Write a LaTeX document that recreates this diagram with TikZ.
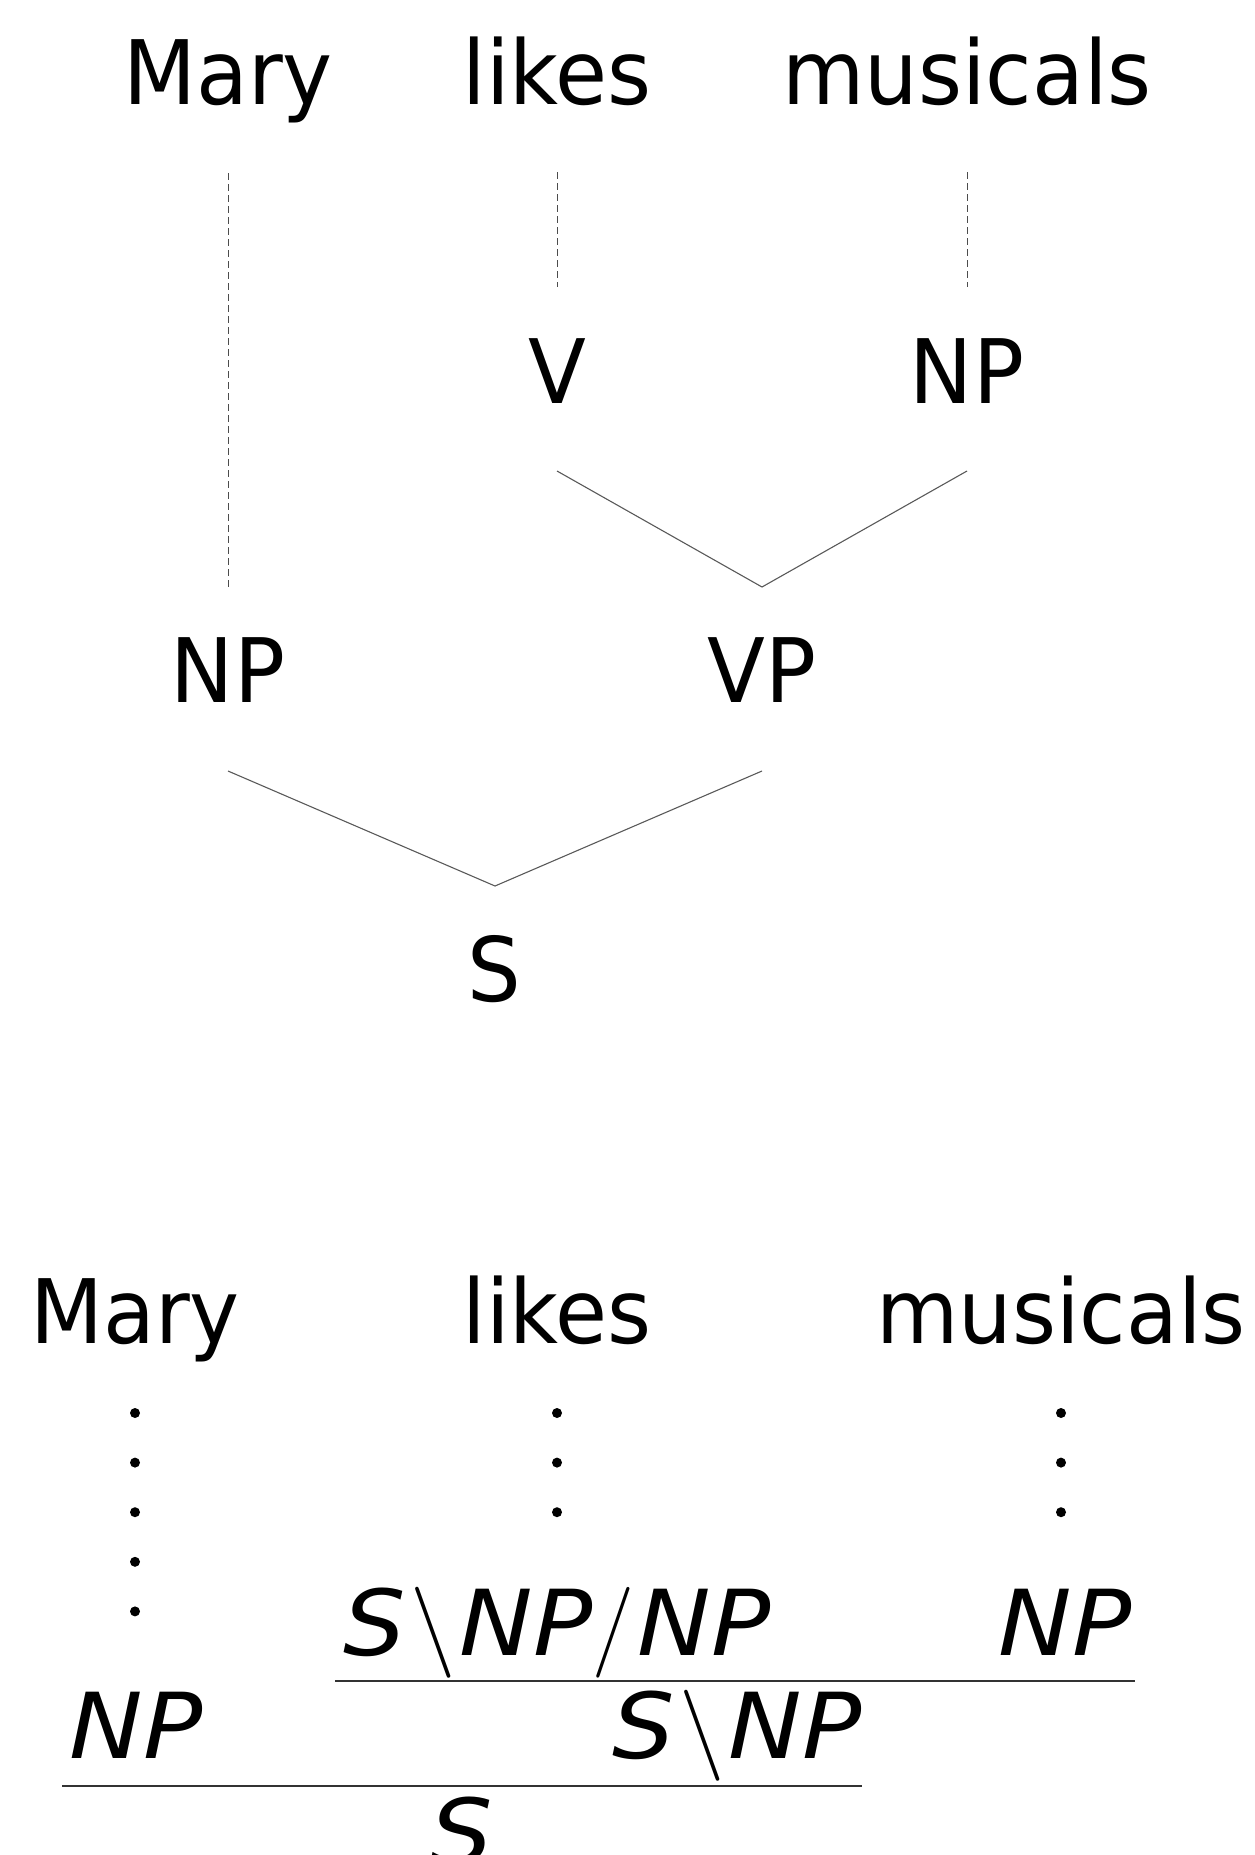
\documentclass[tikz,border=0pt]{standalone}
\usepackage{fontspec}
\setmainfont[FakeStretch=0.95]{DejaVu Sans}
\newfontfamily\catfont[FakeStretch=1.08]{DejaVu Sans}
\newfontfamily\slfont{Latin Modern Roman}
\newcommand{\bsl}{\kern0.05em{\slfont\upshape\textbackslash}\kern0.04em}
\newcommand{\fsl}{{\slfont\upshape/}\kern0.04em}
\begin{document}
\begin{tikzpicture}[x=1pt,y=-1pt,
  word/.style={anchor=base,inner sep=0pt,font=\fontsize{89}{100}\selectfont},
  cat/.style={anchor=base,inner sep=0pt,font=\catfont\fontsize{91}{100}\selectfont\itshape},
  dashlink/.style={draw=black!70,line width=0.9pt,dash pattern=on 7pt off 4pt},
  branch/.style={draw=black!65,line width=1.1pt},
  dotcol/.style={line width=10pt,line cap=round,dash pattern=on 0pt off 49.6pt},
  rule/.style={draw=black!80,line width=1.6pt}]
\useasboundingbox (0,0) rectangle (1255,1855);
% ---- phrase-structure tree ----
\node[word] (tMary) at (228,104) {Mary};
\node[word] (tLikes) at (557,104) {likes};
\node[word] (tMus) at (967,104) {musicals};
\node[word] (V) at (557,403) {V};
\node[word] (NPr) at (967,403) {NP};
\node[word] (NPl) at (228,702) {NP};
\node[word] (VP) at (762,702) {VP};
\node[word] (S) at (494,1001) {S};
\coordinate (mA) at (228,173); \coordinate (mB) at (228,587);
\coordinate (lA) at (557,172); \coordinate (lB) at (557,287);
\coordinate (uA) at (967,172); \coordinate (uB) at (967,287);
\draw[dashlink] (mA) -- (mB);
\draw[dashlink] (lA) -- (lB);
\draw[dashlink] (uA) -- (uB);
\coordinate (vL) at (557,471); \coordinate (vR) at (967,471); \coordinate (vJ) at (762,587);
\draw[branch] (vL) -- (vJ) -- (vR);
\coordinate (sL) at (228,771); \coordinate (sR) at (762,771); \coordinate (sJ) at (495,886);
\draw[branch] (sL) -- (sJ) -- (sR);
% ---- CCG derivation ----
\node[word] (bMary) at (135,1343) {Mary};
\node[word] (bLikes) at (557,1343) {likes};
\node[word] (bMus) at (1061,1343) {musicals};
\coordinate (dM1) at (135,1413); \coordinate (dM2) at (135,1612.6);
\coordinate (dL1) at (557,1413); \coordinate (dL2) at (557,1513.4);
\coordinate (dU1) at (1061,1413); \coordinate (dU2) at (1061,1513.4);
\draw[dotcol] (dM1) -- (dM2);
\draw[dotcol] (dL1) -- (dL2);
\draw[dotcol] (dU1) -- (dU2);
\node[cat] (cV) at (557,1655) {S\bsl NP\fsl NP};
\node[cat] (cO) at (1065,1655) {NP};
\coordinate (r1L) at (335,1681); \coordinate (r1R) at (1135,1681);
\draw[rule] (r1L) -- (r1R);
\node[cat] (cS) at (136,1758) {NP};
\node[cat] (cVP) at (737,1758) {S\bsl NP};
\coordinate (r2L) at (62,1786); \coordinate (r2R) at (862,1786);
\draw[rule] (r2L) -- (r2R);
\node[cat] (cRes) at (462,1864) {S};
\end{tikzpicture}
\end{document}
